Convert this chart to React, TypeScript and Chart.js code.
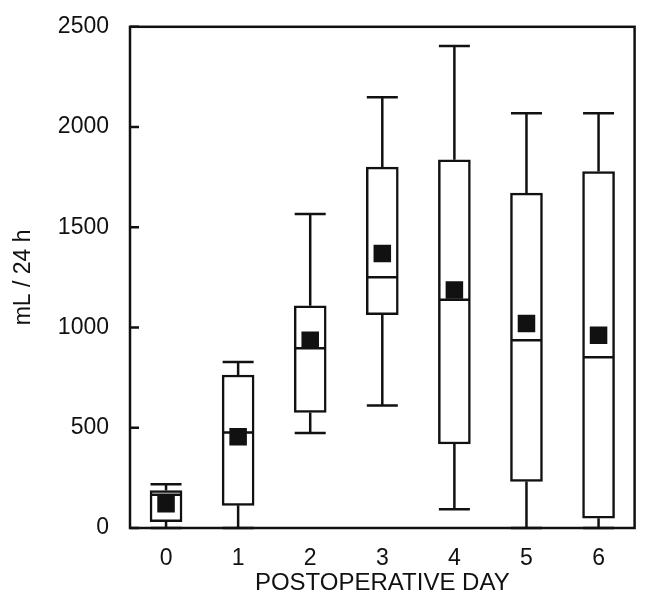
import React, { useEffect, useRef } from "react";
import { Chart, registerables } from "chart.js";

Chart.register(...registerables);

const categories = ["0", "1", "2", "3", "4", "5", "6"];
const whiskerLow = [0, 0, 474, 611, 94, 0, 0];
const q1 = [31, 113, 576, 1064, 419, 232, 49];
const median = [166, 476, 897, 1251, 1138, 936, 852];
const q3 = [187, 763, 1108, 1800, 1837, 1670, 1778];
const whiskerHigh = [218, 828, 1566, 2148, 2404, 2069, 2069];
const means = [121, 455, 936, 1369, 1187, 1020, 961];
const yTicks = [0, 500, 1000, 1500, 2000, 2500];

const FONT = "'Liberation Sans', Arial, Helvetica, sans-serif";
const INK = "#111";
const BOX_W = 32;
const LW = 2.5;

const boxPlugin = {
  id: "boxExtras",
  afterDatasetDraw(chart: any, args: any) {
    if (args.index !== 1) return;
    const ctx = chart.ctx;
    const xs = chart.scales.x;
    const ys = chart.scales.y;
    ctx.save();
    ctx.strokeStyle = INK;
    ctx.lineWidth = LW;
    ctx.lineCap = "butt";
    categories.forEach((_, i) => {
      const x = xs.getPixelForValue(i);
      const yLo = ys.getPixelForValue(whiskerLow[i]);
      const yQ1 = ys.getPixelForValue(q1[i]);
      const yQ3 = ys.getPixelForValue(q3[i]);
      const yHi = ys.getPixelForValue(whiskerHigh[i]);
      const yMed = ys.getPixelForValue(median[i]);
      const h = BOX_W / 2 - 0.5;
      ctx.beginPath();
      ctx.moveTo(x, yQ3);
      ctx.lineTo(x, yHi);
      ctx.moveTo(x - h, yHi);
      ctx.lineTo(x + h, yHi);
      ctx.moveTo(x, yQ1);
      ctx.lineTo(x, yLo);
      ctx.moveTo(x - h, yLo);
      ctx.lineTo(x + h, yLo);
      ctx.moveTo(x - h, yMed);
      ctx.lineTo(x + h, yMed);
      ctx.stroke();
    });
    ctx.restore();
  },
  afterDraw(chart: any) {
    const ctx = chart.ctx;
    const { left, right, top, bottom } = chart.chartArea;
    const ys = chart.scales.y;
    ctx.save();
    ctx.strokeStyle = INK;
    ctx.lineWidth = LW;
    ctx.strokeRect(left, top, right - left, bottom - top);
    ctx.beginPath();
    yTicks.forEach((v) => {
      const y = ys.getPixelForValue(v);
      ctx.moveTo(left, y);
      ctx.lineTo(left + 9, y);
    });
    ctx.stroke();
    ctx.restore();
  },
};

export default function App() {
  const ref = useRef<HTMLCanvasElement | null>(null);
  useEffect(() => {
    document.body.style.margin = "0";
    const canvas = ref.current;
    if (!canvas) return;
    const chart = new Chart(canvas, {
      type: "bar",
      data: {
        labels: categories,
        datasets: [
          {
            type: "line",
            data: means,
            showLine: false,
            pointStyle: "rect",
            pointRadius: 12.4,
            pointHoverRadius: 12.4,
            pointBackgroundColor: INK,
            pointBorderWidth: 0,
            borderColor: INK,
            order: 0,
          } as any,
          {
            type: "bar",
            data: categories.map((_, i) => [q1[i], q3[i]]),
            backgroundColor: "#fff",
            borderColor: INK,
            borderWidth: LW,
            borderSkipped: false,
            barThickness: BOX_W,
            order: 1,
          } as any,
        ],
      },
      options: {
        responsive: false,
        animation: false,
        events: [],
        layout: { padding: { top: 21, right: 9, left: 0, bottom: 0 } },
        plugins: {
          legend: { display: false },
          tooltip: { enabled: false },
        },
        scales: {
          x: {
            type: "category",
            offset: true,
            grid: { display: false },
            border: { display: false },
            ticks: {
              color: INK,
              font: { family: FONT, size: 23 },
              padding: 9,
              maxRotation: 0,
            },
            title: {
              display: true,
              text: "POSTOPERATIVE DAY",
              color: INK,
              font: { family: FONT, size: 24 },
              padding: { top: 0, bottom: 0 },
            },
            afterFit: (s: any) => {
              s.height = 70;
            },
          },
          y: {
            min: 0,
            max: 2500,
            ticks: {
              stepSize: 500,
              color: INK,
              font: { family: FONT, size: 23 },
              padding: 13,
              callback: (v: any) => String(v),
            },
            grid: { display: false },
            border: { display: false },
            title: {
              display: true,
              text: "mL / 24 h",
              color: INK,
              font: { family: FONT, size: 23 },
              padding: { top: 10, bottom: 0 },
            },
            afterFit: (s: any) => {
              s.width = 130;
            },
          },
        },
      },
      plugins: [boxPlugin],
    });
    return () => chart.destroy();
  }, []);
  return <canvas ref={ref} width={647} height={598} style={{ display: "block" }} />;
}
